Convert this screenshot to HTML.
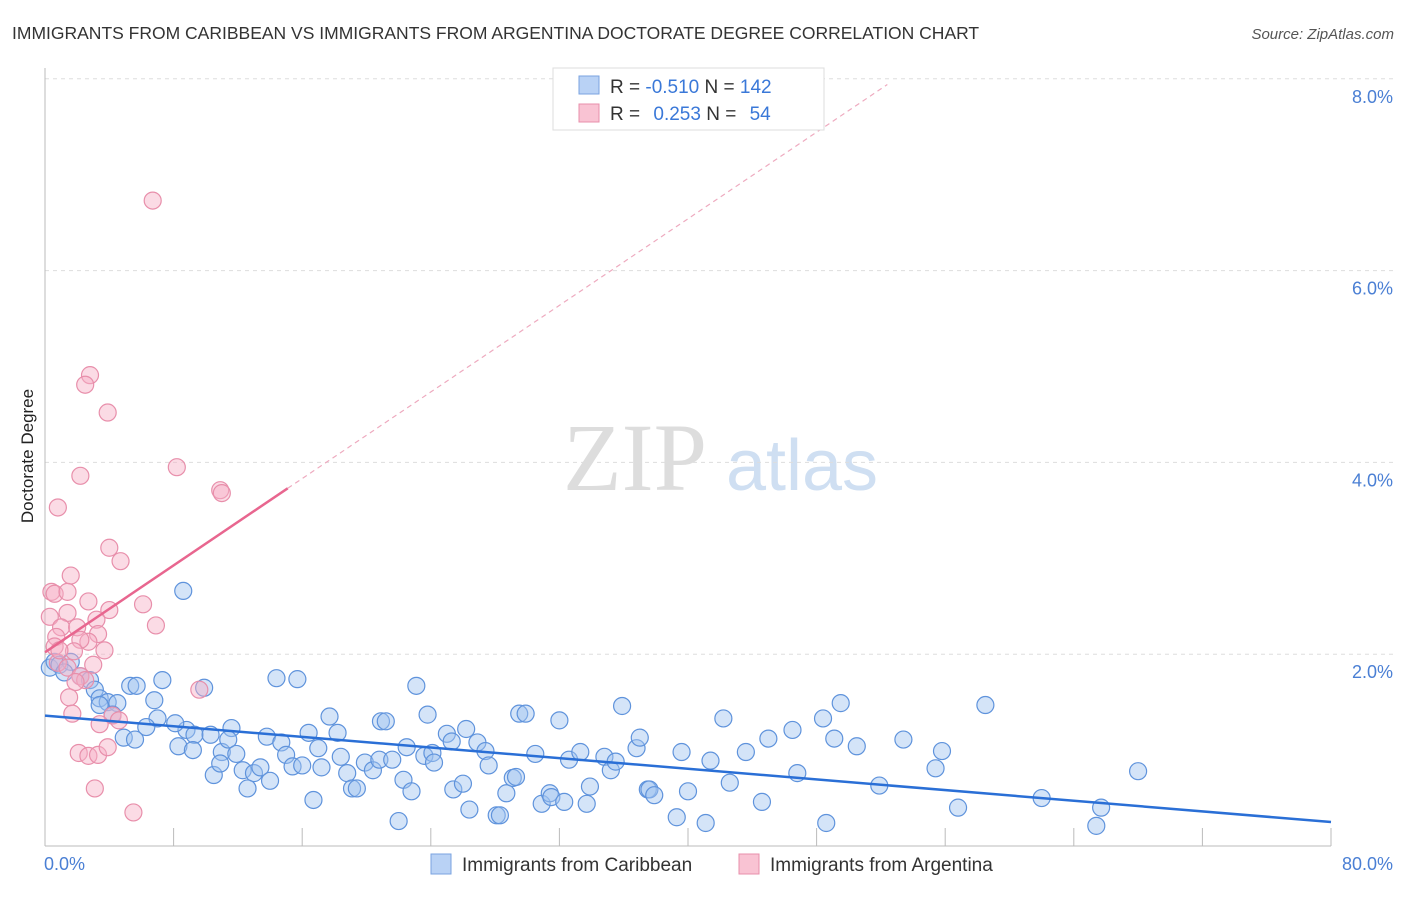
<!DOCTYPE html>
<html><head><meta charset="utf-8"><style>
body{margin:0;background:#fff;font-family:"Liberation Sans",sans-serif;}
svg text{font-family:"Liberation Sans",sans-serif;}
</style></head><body>
<svg id="c" width="1406" height="892" xmlns="http://www.w3.org/2000/svg">
<text x="12" y="39" font-size="17.5" fill="#333">IMMIGRANTS FROM CARIBBEAN VS IMMIGRANTS FROM ARGENTINA DOCTORATE DEGREE CORRELATION CHART</text>
<text x="1394" y="39" font-size="15" fill="#555" font-style="italic" text-anchor="end">Source: ZipAtlas.com</text>
<text x="0" y="0" font-size="17" fill="#222" transform="translate(33,456) rotate(-90)" text-anchor="middle">Doctorate Degree</text>
<g>
<text x="635" y="490" font-size="96" fill="#ddd" font-family="Liberation Serif" text-anchor="middle" style="font-family:'Liberation Serif',serif">ZIP</text>
<text x="802" y="490" font-size="72" fill="#cfdff2" text-anchor="middle">atlas</text>
</g>
<g id="grid"></g><g id="axes"></g><g id="pts"></g><g id="trend"></g>
<g>
<rect x="553" y="68" width="271" height="62" fill="#fff" stroke="#ddd"/>
<rect x="579" y="76" width="20" height="18" fill="#b9d2f5" stroke="#7aa3e0"/>
<rect x="579" y="104" width="20" height="18" fill="#f9c3d3" stroke="#e88fab"/>
<text x="610" y="93" font-size="19" fill="#333">R = <tspan fill="#3a78d8">-0.510</tspan>   N = <tspan fill="#3a78d8">142</tspan></text>
<text x="610" y="120" font-size="19" fill="#333">R =  <tspan fill="#3a78d8" dx="8">0.253</tspan>   N =  <tspan fill="#3a78d8" dx="8">54</tspan></text>
</g>
<g>
<rect x="431" y="854" width="20" height="20" fill="#b9d2f5" stroke="#7aa3e0"/>
<text x="462" y="871" font-size="19" fill="#333">Immigrants from Caribbean</text>
<rect x="739" y="854" width="20" height="20" fill="#f9c3d3" stroke="#e88fab"/>
<text x="770" y="871" font-size="19" fill="#333">Immigrants from Argentina</text>
</g>
</svg>
<script>
const yTicks=[2,4,6,8];
const yTickLabels=["2.0%","4.0%","6.0%","8.0%"];
const xTickVals=[0,8,16,24,32,40,48,56,64,72,80];
const blueX=[0.3,0.6,0.9,1.6,1.2,2.2,2.8,3.1,3.4,3.9,4.5,4.2,3.4,5.3,5.7,7.3,6.8,7.0,6.3,4.9,5.6,8.6,9.9,8.8,8.1,9.3,10.3,8.3,9.2,11.0,11.6,11.4,11.9,10.5,10.9,12.3,13.0,13.4,12.6,14.0,13.8,14.4,15.7,14.7,15.0,15.4,16.0,16.4,17.0,17.2,17.7,18.2,18.4,18.8,19.1,19.4,19.9,20.4,20.9,21.2,20.8,21.6,22.3,22.5,22.8,22.0,16.7,23.1,23.8,23.6,24.1,24.2,25.0,25.3,25.4,26.0,26.2,26.4,26.9,27.4,27.6,28.1,28.3,28.7,29.1,29.3,29.5,29.9,30.5,30.9,31.4,31.5,32.3,32.0,32.6,33.3,33.7,33.9,34.8,35.2,35.5,35.9,36.8,37.0,37.5,37.6,37.9,39.3,39.6,40.0,41.1,41.4,42.2,42.6,43.6,44.6,45.0,46.5,46.8,48.4,48.6,49.1,49.5,50.5,51.9,53.4,55.4,55.8,56.8,58.5,62.0,65.7,65.4,68.0];
const blueY=[1.86,1.92,1.89,1.92,1.81,1.77,1.73,1.63,1.54,1.50,1.49,1.37,1.47,1.67,1.67,1.73,1.52,1.33,1.24,1.13,1.11,2.66,1.65,1.21,1.28,1.16,1.16,1.04,1.00,0.98,1.23,1.11,0.96,0.74,0.86,0.79,0.76,0.82,0.60,0.68,1.14,1.75,1.74,1.08,0.95,0.83,0.84,1.18,1.02,0.82,1.35,1.18,0.93,0.76,0.60,0.60,0.87,0.79,1.30,1.30,0.90,0.90,0.69,1.03,0.57,0.26,0.48,1.67,1.37,0.94,0.97,0.87,1.17,1.09,0.59,0.65,1.22,0.38,1.08,0.99,0.84,0.32,0.32,0.55,0.71,0.72,1.38,1.38,0.96,0.44,0.55,0.51,0.46,1.31,0.90,0.98,0.44,0.62,0.93,0.79,0.88,1.46,1.02,1.13,0.59,0.59,0.53,0.30,0.98,0.57,0.24,0.89,1.33,0.66,0.98,0.46,1.12,1.21,0.76,1.33,0.24,1.12,1.49,1.04,0.63,1.11,0.81,0.99,0.40,1.47,0.50,0.40,0.21,0.78];
const pinkX=[6.7,2.8,2.5,3.9,8.2,10.9,11.0,2.2,0.8,4.0,4.7,1.6,0.4,0.6,1.4,2.7,6.1,4.0,1.4,0.3,3.2,6.9,1.0,2.0,3.3,0.7,2.7,0.6,2.2,3.7,1.8,3.0,0.8,1.4,2.2,2.5,1.9,1.5,4.2,4.6,1.7,3.4,9.6,2.1,2.7,3.3,3.9,3.1,5.5,0.9];
const pinkY=[6.73,4.91,4.81,4.52,3.95,3.71,3.68,3.86,3.53,3.11,2.97,2.82,2.65,2.63,2.65,2.55,2.52,2.46,2.43,2.39,2.36,2.30,2.28,2.28,2.21,2.18,2.13,2.08,2.15,2.04,2.03,1.89,1.91,1.86,1.77,1.73,1.71,1.55,1.36,1.31,1.38,1.27,1.63,0.97,0.94,0.95,1.03,0.60,0.35,2.04];
const blueTrend=[[0,1.36],[80,0.25]];
const pinkTrend=[[0,2.02],[15.1,3.73]];
const pinkDash=[[15.1,3.73],[52.4,7.94]];

const NS="http://www.w3.org/2000/svg";
const X0=45,X1=1331,Y0=846,PPY=95.9;
const sx=v=>X0+(v/80)*(X1-X0);
const sy=v=>Y0-v*PPY;
function mk(tag,attrs,parent){const e=document.createElementNS(NS,tag);for(const k in attrs)e.setAttribute(k,attrs[k]);parent.appendChild(e);return e;}
const grid=document.getElementById('grid'),axes=document.getElementById('axes'),pts=document.getElementById('pts'),trend=document.getElementById('trend');
yTicks.forEach((t,i)=>{
  const l=mk('line',{x1:X0,x2:1394,y1:sy(t),y2:sy(t),stroke:'#ddd','stroke-dasharray':'4,4'},grid);
  
  
  const tx=mk('text',{x:1393,y:sy(t)+24,'font-size':18,fill:'#4a7fd4','text-anchor':'end'},axes);
  tx.textContent=yTickLabels[i];
  
  
});
const ya=mk('line',{x1:X0,x2:X0,y1:68,y2:Y0,stroke:'#bbb'},axes);


const xa=mk('line',{x1:X0,x2:X1,y1:Y0,y2:Y0,stroke:'#bbb'},axes);


xTickVals.forEach(v=>{
  const t=mk('line',{x1:sx(v),x2:sx(v),y1:828,y2:Y0,stroke:'#bbb'},axes);
  
  
});
const xl0=mk('text',{x:44,y:870,'font-size':18,fill:'#4a7fd4'},axes);xl0.textContent='0.0%';


const xl1=mk('text',{x:1393,y:870,'font-size':18,fill:'#4a7fd4','text-anchor':'end'},axes);xl1.textContent='80.0%';


blueX.forEach((v,i)=>{
  const c=mk('circle',{cx:sx(v),cy:sy(blueY[i]),r:8.5,fill:'rgba(160,195,240,0.45)',stroke:'#5f93dc','stroke-width':1.2},pts);
  
  
});
pinkX.forEach((v,i)=>{
  const c=mk('circle',{cx:sx(v),cy:sy(pinkY[i]),r:8.5,fill:'rgba(246,175,198,0.45)',stroke:'#e88fab','stroke-width':1.2},pts);
  
  
});
const bt=mk('line',{x1:sx(blueTrend[0][0]),y1:sy(blueTrend[0][1]),x2:sx(blueTrend[1][0]),y2:sy(blueTrend[1][1]),stroke:'#2a6fd6','stroke-width':2.5},trend);


const pt=mk('line',{x1:sx(pinkTrend[0][0]),y1:sy(pinkTrend[0][1]),x2:sx(pinkTrend[1][0]),y2:sy(pinkTrend[1][1]),stroke:'#e8668f','stroke-width':2.5},trend);


const pd=mk('line',{x1:sx(pinkDash[0][0]),y1:sy(pinkDash[0][1]),x2:sx(pinkDash[1][0]),y2:sy(pinkDash[1][1]),stroke:'#eeaabf','stroke-width':1.2,'stroke-dasharray':'5,4'},trend);


</script>
</body></html>
